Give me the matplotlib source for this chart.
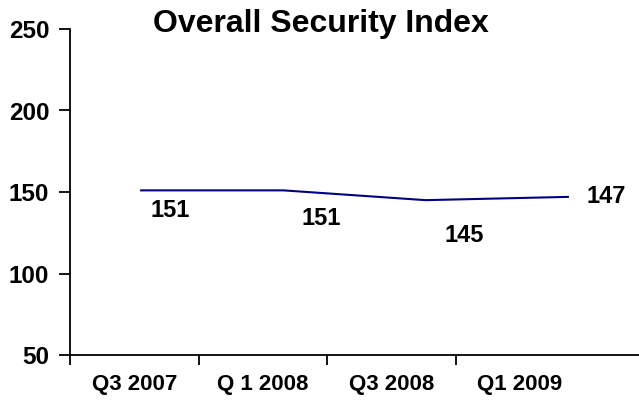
import matplotlib
matplotlib.use("Agg")
import matplotlib.pyplot as plt
from matplotlib.ticker import FixedLocator, NullFormatter

# Overall security index by quarter
quarters = ["Q3 2007", "Q 1 2008", "Q3 2008", "Q1 2009"]
index_values = [151, 151, 145, 147]

# where each value label sits relative to its point (pixels)
label_offsets = [(29, -20), (38, -28), (39, -35), (38, 0)]

plt.rcParams['font.family'] = ['Liberation Sans', 'DejaVu Sans']
plt.rcParams['font.weight'] = 'bold'

fig = plt.figure(figsize=(6.39, 4.11), dpi=100)
ax = fig.add_axes([70 / 639, 1 - 355 / 411, 1 - 70 / 639, (355 - 29) / 411])

# category axis: boundaries as ticks, names centred between them
ax.set_xlim(0, 569 / 128.5)
ax.set_ylim(50, 250)
ax.xaxis.set_major_locator(FixedLocator(range(len(quarters))))
ax.xaxis.set_major_formatter(NullFormatter())
ax.xaxis.set_minor_locator(FixedLocator([i + 0.5 for i in range(len(quarters))]))
ax.set_xticklabels(quarters, minor=True)
ax.tick_params(axis='x', which='major', direction='out', length=7, width=1.3)
ax.tick_params(axis='x', which='minor', length=0, pad=14, labelsize=16)
ax.set_yticks([50, 100, 150, 200, 250])
ax.tick_params(axis='y', direction='out', length=8, width=1.3, pad=7, labelsize=17.5)
for lbl in ax.get_xticklabels(minor=True) + ax.get_yticklabels():
    lbl.set_fontweight('bold')

for side in ['top', 'right']:
    ax.spines[side].set_visible(False)
for side in ['left', 'bottom']:
    ax.spines[side].set_linewidth(1.3)

# the series lives on its own horizontal scale
lx = ax.twiny()
lx.set_xlim(0.5, len(quarters) + 0.5)
lx.axis('off')
xs = list(range(1, len(quarters) + 1))
lx.plot(xs, index_values, color='#000080', linewidth=1.5)
for x, v, off in zip(xs, index_values, label_offsets):
    lx.annotate(str(v), (x, v), xytext=off, textcoords='offset pixels',
                ha='center', va='center', fontsize=17, fontweight='bold')

fig.text(321 / 639, 1 - 24 / 411, "Overall Security Index", ha='center', va='center',
         fontsize=23, fontweight='bold')

fig.savefig("out.png", dpi=100)
